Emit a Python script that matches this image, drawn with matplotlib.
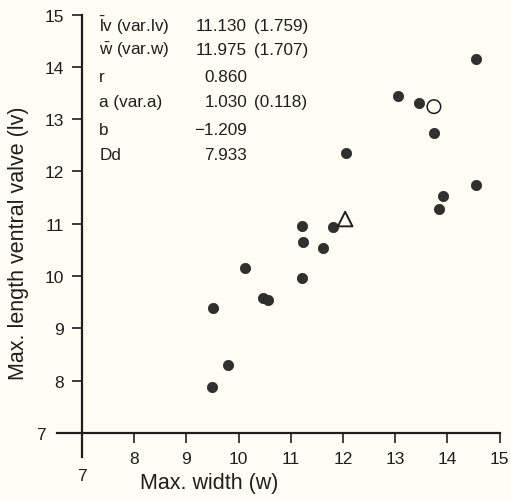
import matplotlib
matplotlib.use("Agg")
import matplotlib.pyplot as plt

# data
w_pts = [11.21, 11.81, 11.23, 11.62, 10.12, 11.21, 10.47, 10.57, 9.50, 9.80, 9.48,
         13.05, 13.46, 13.74, 12.06, 14.54, 13.92, 13.84, 14.54]
lv_pts = [10.95, 10.94, 10.65, 10.54, 10.15, 9.96, 9.58, 9.55, 9.38, 8.29, 7.87,
          13.44, 13.31, 12.74, 12.35, 11.75, 11.54, 11.28, 14.15]
open_w, open_lv = [13.74], [13.24]
tri_w, tri_lv = [12.04], [11.09]

stat_names = [r"$\mathrm{\bar{l}}$v (var.lv)", r"$\mathrm{\bar{w}}$ (var.w)", "r",
              "a (var.a)", "b", "Dd"]
stat_vals = ["11.130", "11.975", "0.860", "1.030", "\u22121.209", "7.933"]
stat_var = ["(1.759)", "(1.707)", "", "(0.118)", "", ""]

ticks = [7, 8, 9, 10, 11, 12, 13, 14, 15]

plt.rcParams.update({
    'font.family': ['Liberation Sans', 'DejaVu Sans'],
    'mathtext.fontset': 'custom',
    'mathtext.rm': 'Liberation Sans',
    'mathtext.it': 'Liberation Sans:italic',
})
bg = '#fefef4'
ink = '#1e1e1e'

fig = plt.figure(figsize=(5.11, 5.02), dpi=100, facecolor=bg)
ax = fig.add_axes([57/511, 1-458/502, 442.7/511, 442.4/502])
ax.set_facecolor(bg)

ax.scatter(w_pts, lv_pts, s=55, color='#303030', edgecolors='#222222', linewidths=0.5, zorder=3)
ax.scatter(open_w, open_lv, s=95, facecolors='none', edgecolors=ink, linewidths=1.1, zorder=3)
ax.scatter(tri_w, tri_lv, s=110, marker='^', facecolors='none', edgecolors=ink, linewidths=1.4, zorder=3)

ax.set_xlim(6.52, 15.0)
ax.set_ylim(6.54, 15.0)
for s in ['top', 'right']:
    ax.spines[s].set_visible(False)
ax.spines['left'].set_position(('data', 7))
ax.spines['bottom'].set_position(('data', 7))
for s in ['left', 'bottom']:
    ax.spines[s].set_color(ink)
    ax.spines[s].set_linewidth(1.6)

ax.set_xticks(ticks)
ax.set_yticks(ticks)
ax.tick_params(axis='both', direction='out', length=7, width=1.2, color=ink,
               labelsize=12.5, labelcolor=ink, pad=6)
ax.xaxis.get_major_ticks()[0].set_pad(18)
ax.yaxis.get_major_ticks()[0].set_pad(19)
ax.xaxis.get_major_ticks()[0].tick1line.set_visible(False)
ax.yaxis.get_major_ticks()[0].tick1line.set_visible(False)

ax.set_xlabel("Max. width (w)", fontsize=15.5, color=ink)
ax.xaxis.set_label_coords(0.344, -0.034)
ax.set_ylabel("Max. length ventral valve (lv)", fontsize=15.5, color=ink)
ax.yaxis.set_label_coords(-0.063, 0.486)

row_y = [14.80, 14.34, 13.81, 13.33, 12.81, 12.32]
for name, val, var, y in zip(stat_names, stat_vals, stat_var, row_y):
    ax.text(7.33, y, name, fontsize=12.3, color=ink, va='center', ha='left')
    ax.text(10.16, y, val, fontsize=12.3, color=ink, va='center', ha='right')
    if var:
        ax.text(10.30, y, var, fontsize=12.3, color=ink, va='center', ha='left')

fig.savefig("out.png", dpi=100, facecolor=bg)
